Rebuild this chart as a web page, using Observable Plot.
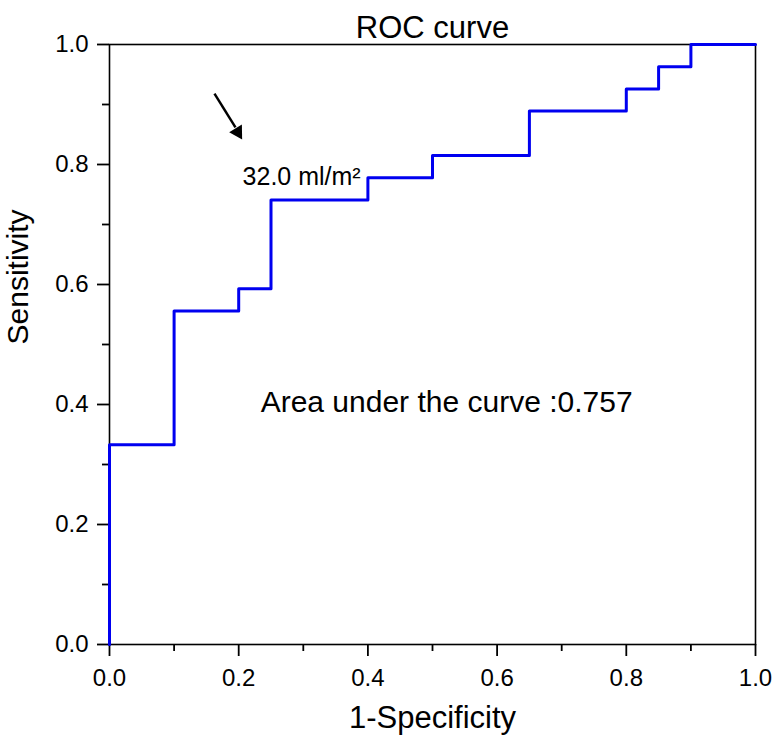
<!DOCTYPE html>
<html>
<head>
<meta charset="utf-8">
<script src="https://cdn.jsdelivr.net/npm/d3@7"></script>
<script src="https://cdn.jsdelivr.net/npm/@observablehq/plot@0.6"></script>
<style>
  html, body { margin: 0; padding: 0; background: #fff; }
  #chart svg { display: block; }
</style>
</head>
<body>
<div id="chart"></div>
<script>
// ROC curve data (1-Specificity, Sensitivity), step-after ordering
const fpr = [0, 0, 0.10, 0.20, 0.25, 0.40, 0.50, 0.65, 0.80, 0.85, 0.90, 1.00];
const tpr = [0, 0.333, 0.556, 0.593, 0.741, 0.778, 0.815, 0.889, 0.926, 0.963, 1.00, 1.00];

// axis ticks
const majorTicks = [0, 0.2, 0.4, 0.6, 0.8, 1.0];
const majorLabels = ["0.0", "0.2", "0.4", "0.6", "0.8", "1.0"];
const minorTicks = [0.1, 0.3, 0.5, 0.7, 0.9];

// texts
const titleText = "ROC curve";
const xLabel = "1-Specificity";
const yLabel = "Sensitivity";
const aucText = ["Area under the curve :0.757"];
const aucPos = [[0.234, 0.403]];
const cutText = ["32.0 ml/m\u00B2"];
const cutPos = [[0.206, 0.78]];
// arrow annotation: shaft start, shaft end, head centre
const arrowFrom = [[0.1625, 0.918]];
const arrowShaftEnd = [[0.195, 0.862]];
const arrowHead = [[0.1985, 0.854]];

const points = fpr.map((x, i) => ({x, y: tpr[i]}));
const labelOf = (d) => majorLabels[majorTicks.indexOf(d)];
const font = "'Liberation Sans', Arial, Helvetica, sans-serif";

const chart = Plot.plot({
  width: 774,
  height: 745,
  marginLeft: 109,
  marginRight: 19,
  marginTop: 44,
  marginBottom: 101,
  style: {fontFamily: font, background: "#fff", color: "#000"},
  x: {domain: [0, 1]},
  y: {domain: [0, 1]},
  marks: [
    Plot.frame({stroke: "#000", strokeWidth: 1.6}),
    Plot.axisX(majorTicks, {tickSize: 12, tickPadding: 12, tickFormat: labelOf, fontSize: 24, strokeWidth: 1.8, label: null}),
    Plot.axisX(minorTicks, {tickSize: 7, text: null, strokeWidth: 1.8, label: null}),
    Plot.axisY(majorTicks, {tickSize: 12, tickPadding: 9, tickFormat: labelOf, fontSize: 24, strokeWidth: 1.8, label: null}),
    Plot.axisY(minorTicks, {tickSize: 7, text: null, strokeWidth: 1.8, label: null}),
    Plot.line(points, {x: "x", y: "y", curve: "step-after", stroke: "#0000f0", strokeWidth: 3}),
    Plot.link([0], {
      x1: () => arrowFrom[0][0], y1: () => arrowFrom[0][1],
      x2: () => arrowShaftEnd[0][0], y2: () => arrowShaftEnd[0][1],
      stroke: "#000", strokeWidth: 2.5
    }),
    Plot.dot([0], {
      x: () => arrowHead[0][0], y: () => arrowHead[0][1],
      symbol: "triangle", r: 5.5, rotate: 149, fill: "#000", stroke: "none"
    }),
    Plot.text(cutText, {x: (d, i) => cutPos[i][0], y: (d, i) => cutPos[i][1], text: d => d, textAnchor: "start", fontSize: 25, fill: "#000"}),
    Plot.text(aucText, {x: (d, i) => aucPos[i][0], y: (d, i) => aucPos[i][1], text: d => d, textAnchor: "start", fontSize: 30, fill: "#000"}),
    Plot.text([titleText], {frameAnchor: "top", dy: -29, text: d => d, fontSize: 31, fill: "#000"}),
    Plot.text([xLabel], {frameAnchor: "bottom", dy: 83, text: d => d, fontSize: 31, fill: "#000"}),
    Plot.text([yLabel], {frameAnchor: "left", dx: -91, rotate: -90, text: d => d, fontSize: 30, fill: "#000"})
  ]
});
document.getElementById("chart").appendChild(chart);
</script>
</body>
</html>
